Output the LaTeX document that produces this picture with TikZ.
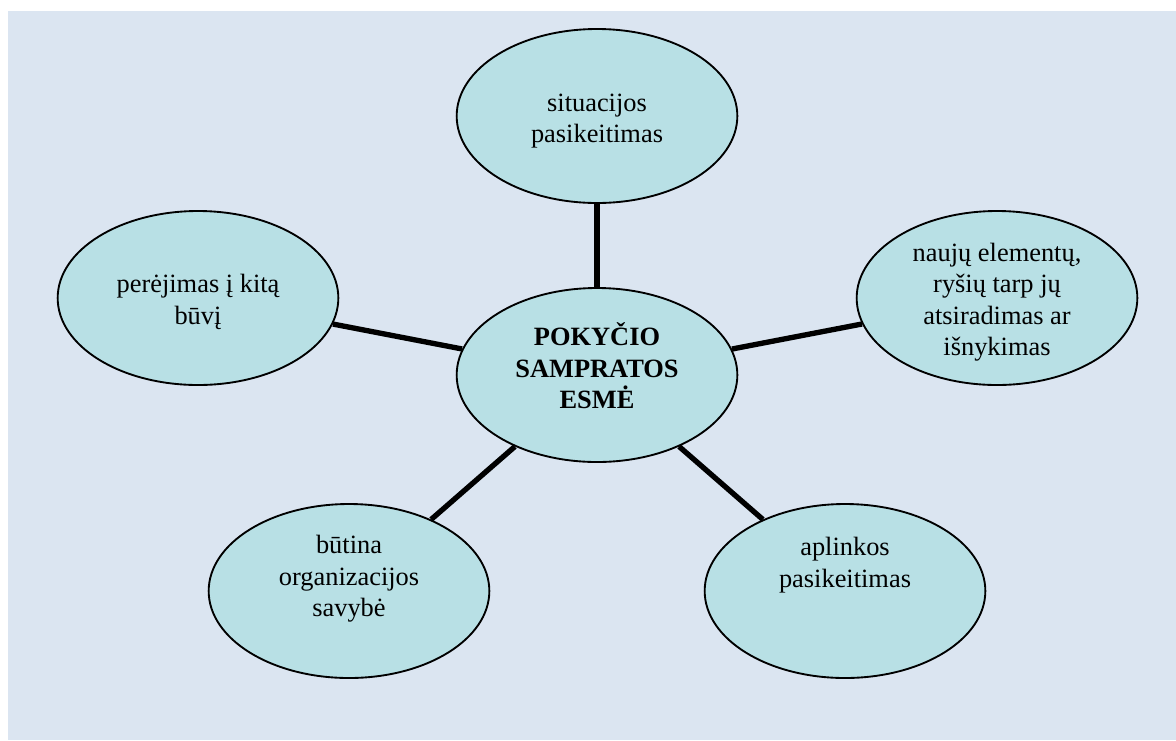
\documentclass[tikz,border=0pt]{standalone}
\usepackage{fontspec}
\setmainfont{Liberation Serif}
\newfontfamily\timesfont{Liberation Serif}
\usetikzlibrary{shapes.geometric}
\definecolor{pagebg}{RGB}{219,229,241}
\definecolor{bubblefill}{RGB}{184,224,229}
\tikzset{
  bubble/.style={ellipse, draw=black, line width=1.4pt, fill=bubblefill,
    minimum width=210.5pt, minimum height=130.5pt, inner sep=0pt},
  txt/.style={align=center, inner sep=0pt,
    font=\timesfont\fontsize{19.8}{23.6}\selectfont},
  link/.style={line width=4pt, black}
}
\begin{document}
\begin{tikzpicture}[x=0.75pt, y=-0.75pt]
  \useasboundingbox (0,0) rectangle (1176,740);
  \fill[pagebg] (8,11) rectangle (1176,740);

  % bubbles
  \node[bubble] (sit) at (597,116) {};
  \node[bubble] (per) at (198,298) {};
  \node[bubble] (cen) at (597,375) {};
  \node[bubble] (nau) at (997,298) {};
  \node[bubble] (but) at (349,591) {};
  \node[bubble] (apl) at (845,591) {};

  % connectors from the centre to each bubble
  \draw[link] (cen) -- (sit);
  \draw[link] (cen) -- (per);
  \draw[link] (cen) -- (nau);
  \draw[link] (cen) -- (but);
  \draw[link] (cen) -- (apl);

  % texts
  \node[txt] (sitT) at (597,121) {situacijos\\pasikeitimas};
  \node[txt] (perT) at (198,302) {perėjimas į kitą\\būvį};
  \node[txt, font=\timesfont\fontsize{19.8}{23.6}\selectfont\bfseries] (cenT) at (597,366) {POKYČIO\\SAMPRATOS\\ESMĖ};
  \node[txt] (nauT) at (997,302) {naujų elementų,\\ryšių tarp jų\\atsiradimas ar\\išnykimas};
  \node[txt] (butT) at (349,579) {būtina\\organizacijos\\savybė};
  \node[txt] (aplT) at (845,565) {aplinkos\\pasikeitimas};
\end{tikzpicture}
\end{document}
